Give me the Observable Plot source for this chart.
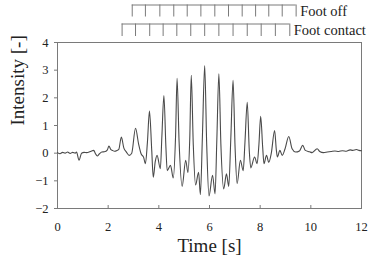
<!DOCTYPE html>
<html>
<head>
<meta charset="utf-8">
<script src="https://cdn.jsdelivr.net/npm/d3@7"></script>
<script src="https://cdn.jsdelivr.net/npm/@observablehq/plot@0.6"></script>
<style>
  html, body { margin: 0; padding: 0; background: #fff; }
</style>
</head>
<body>
<div id="chart"></div>
<script>
// ---- data ----
const time = [
  0.00, 0.10, 0.20, 0.30, 0.40, 0.50, 0.60, 0.70, 0.75, 0.85, 0.95, 1.05, 1.15, 1.25, 1.35, 1.43,
  1.50, 1.57, 1.65, 1.75, 1.85, 1.97, 2.03, 2.10, 2.17, 2.25, 2.35, 2.42, 2.52, 2.62, 2.72, 2.83,
  2.93, 3.08, 3.20, 3.30, 3.40, 3.47, 3.55, 3.63, 3.72, 3.78, 3.86, 3.93, 4.06, 4.12, 4.20, 4.28,
  4.33, 4.46, 4.57, 4.66, 4.72, 4.80, 4.92, 5.06, 5.15, 5.22, 5.28, 5.36, 5.45, 5.57, 5.64, 5.72,
  5.81, 5.89, 5.98, 6.12, 6.22, 6.29, 6.37, 6.45, 6.56, 6.67, 6.76, 6.84, 6.93, 7.01, 7.09, 7.22,
  7.33, 7.40, 7.49, 7.57, 7.63, 7.78, 7.88, 7.95, 8.02, 8.10, 8.15, 8.25, 8.34, 8.44, 8.57, 8.64,
  8.68, 8.78, 8.87, 8.98, 9.13, 9.26, 9.40, 9.55, 9.68, 9.78, 9.95, 10.05, 10.25, 10.35, 10.50, 10.65,
  10.80, 10.95, 11.10, 11.25, 11.40, 11.55, 11.65, 11.80, 11.90, 12.00
];
const intensity = [
  0.02, -0.02, 0.03, 0.00, 0.04, -0.01, 0.03, 0.00, 0.04, -0.25, 0.00, 0.03, 0.02, 0.04, 0.08, 0.10,
  -0.02, -0.10, -0.03, 0.04, 0.05, 0.12, 0.26, 0.14, 0.10, 0.07, 0.10, 0.14, 0.58, 0.18, 0.04, -0.08,
  0.00, 0.90, 0.34, -0.02, -0.15, -0.38, 0.40, 1.52, 0.10, -0.87, -0.30, -0.08, -0.56, 0.60, 2.08, 0.20,
  -0.63, -0.44, -0.90, 0.60, 2.71, 0.40, -1.20, -0.26, -0.70, 0.50, 2.81, 0.30, -1.15, -0.69, -1.50, 0.60,
  3.17, 0.30, -1.55, -0.80, -1.47, 0.50, 2.87, 0.30, -1.29, -0.75, -1.20, 0.50, 2.63, 0.20, -1.10, -0.26,
  -0.63, 0.40, 1.84, 0.10, -0.53, -0.14, -0.38, 0.30, 1.33, 0.20, -0.38, -0.08, -0.33, 0.00, 0.82, 0.10,
  -0.14, 0.10, -0.08, 0.15, 0.60, 0.16, 0.04, 0.08, 0.28, 0.10, 0.05, 0.02, 0.16, 0.06, 0.02, 0.04,
  0.06, 0.08, 0.06, 0.09, 0.07, 0.12, 0.10, 0.13, 0.10, 0.09
];
const footOff = [2.95, 3.47, 4.04, 4.59, 5.12, 5.66, 6.21, 6.75, 7.29, 7.82, 8.34, 8.87, 9.42];
const footContact = [2.55, 3.08, 3.64, 4.17, 4.71, 5.26, 5.81, 6.37, 6.93, 7.49, 8.04, 8.60, 9.17];
const xTicks = [0, 2, 4, 6, 8, 10, 12];
const yTicks = [-2, -1, 0, 1, 2, 3, 4];
const xLabel = "Time [s]";
const yLabel = "Intensity [-]";
const offLabel = "Foot off";
const contactLabel = "Foot contact";

// ---- layout ----
const W = 373, H = 268;
const mTop = 42, mBottom = 60, mLeft = 57, mRight = 12;
const yDomain = [-2, 4];
const plotH = H - mTop - mBottom;
const unitPx = plotH / (yDomain[1] - yDomain[0]);
// convert a pixel row in the top margin to a y value through the same scale
const yPx = px => yDomain[1] + (mTop - px) / unitPx;

const series = time.map((t, i) => ({t, v: intensity[i]}));
const serif = "'Liberation Serif', 'Times New Roman', serif";
const grey = "#7a7a7a";

const brackets = [
  {ticks: footOff, top: yPx(4.5), bottom: yPx(16.5), label: offLabel, labelY: yPx(10.5)},
  {ticks: footContact, top: yPx(23.5), bottom: yPx(36), label: contactLabel, labelY: yPx(30)}
];

const marks = [
  Plot.frame({stroke: grey, strokeWidth: 1}),
  Plot.axisX(xTicks, {tickSize: 0, tickPadding: 14, fontSize: 12.5, label: null, fill: "#222", fontFamily: serif}),
  Plot.tickX(xTicks.slice(1, -1), {x: d => d, stroke: grey, insetTop: plotH - 3}),
  Plot.axisY(yTicks, {tickSize: 3, tickPadding: 6, fontSize: 12.5, label: null, stroke: grey, fill: "#222", fontFamily: serif}),
  Plot.text([xLabel], {frameAnchor: "bottom", dy: 43, fontSize: 19, fill: "#222", fontFamily: serif}),
  Plot.text([yLabel], {frameAnchor: "left", dx: -40, rotate: -90, fontSize: 19, fill: "#222", fontFamily: serif}),
  Plot.line(series, {x: "t", y: "v", stroke: "#4a4a4a", strokeWidth: 1.1, curve: "monotone-x"})
];

for (const b of brackets) {
  marks.push(
    Plot.ruleY([b.top], {x1: b.ticks[0], x2: b.ticks[b.ticks.length - 1], stroke: grey, clip: false}),
    Plot.ruleX(b.ticks, {x: d => d, y1: b.top, y2: b.bottom, stroke: grey, clip: false}),
    Plot.text([b.label], {x: b.ticks[b.ticks.length - 1], y: b.labelY, dx: 4, textAnchor: "start", fontSize: 14.5, fill: "#222", fontFamily: serif, clip: false})
  );
}

const chart = Plot.plot({
  width: W,
  height: H,
  marginTop: mTop,
  marginBottom: mBottom,
  marginLeft: mLeft,
  marginRight: mRight,
  style: {fontFamily: serif, background: "#fff", overflow: "visible"},
  x: {domain: [0, 12]},
  y: {domain: yDomain},
  marks
});
document.getElementById("chart").appendChild(chart);
</script>
</body>
</html>
